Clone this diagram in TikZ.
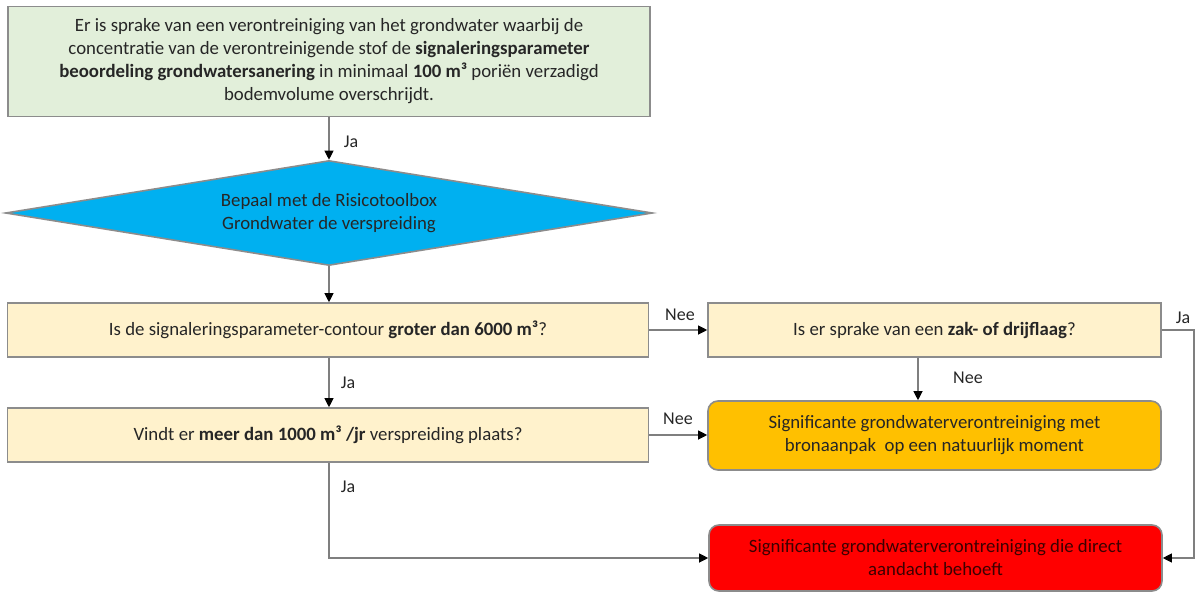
\documentclass[tikz,border=0pt]{standalone}
\usepackage{fontspec}
\setmainfont{Carlito}
\usetikzlibrary{shapes.geometric,arrows.meta}
\definecolor{boxgreen}{HTML}{E2EFDA}
\definecolor{boxyellow}{HTML}{FFF2CC}
\definecolor{boxorange}{HTML}{FFC000}
\definecolor{boxred}{HTML}{FF0000}
\definecolor{boxblue}{HTML}{00B0F0}
\definecolor{edgegray}{HTML}{8C8C8C}
\definecolor{linegray}{HTML}{7F7F7F}
\tikzset{
  base/.style={draw=edgegray, line width=1.6pt, align=center, inner sep=0pt,
    font=\fontsize{18.8}{23}\selectfont, text=black!85},
  greenbox/.style={base, rectangle, fill=boxgreen},
  yellowbox/.style={base, rectangle, fill=boxyellow},
  orangebox/.style={base, rectangle, rounded corners=10pt, fill=boxorange},
  redbox/.style={base, rectangle, rounded corners=10pt, fill=boxred,
    text={rgb,255:red,60;green,0;blue,0}},
  bluediamond/.style={base, diamond, shape aspect=6.16, fill=boxblue},
  conn/.style={draw=linegray, line width=1.1pt,
    -{Triangle[length=9pt,width=9pt,color=black]}},
  lbl/.style={font=\fontsize{18}{20}\selectfont, text=black!85, inner sep=0pt}
}
\begin{document}
\begin{tikzpicture}[x=1pt,y=-1pt]
\useasboundingbox (0,0) rectangle (1195,592);
\node[greenbox, minimum width=642pt, minimum height=110pt] (start) at (329,61.5)
  {Er is sprake van een verontreiniging van het grondwater waarbij de\\
   concentratie van de verontreinigende stof de \textbf{signaleringsparameter}\\
   \textbf{beoordeling grondwatersanering} in minimaal \textbf{100 m³} poriën verzadigd\\
   bodemvolume overschrijdt.};
\node[bluediamond, minimum width=647pt, minimum height=105pt] (tool) at (329,213)
  {Bepaal met de Risicotoolbox\\Grondwater de verspreiding};
\node[yellowbox, minimum width=641pt, minimum height=54pt] (q1) at (328,330)
  {Is de signaleringsparameter-contour \textbf{groter dan 6000 m³}?};
\node[yellowbox, minimum width=641pt, minimum height=54pt] (q2) at (328,435)
  {Vindt er \textbf{meer dan 1000 m³ /jr} verspreiding plaats?};
\node[yellowbox, minimum width=453pt, minimum height=54pt] (q3) at (934.5,330)
  {Is er sprake van een \textbf{zak- of drijflaag}?};
\node[orangebox, minimum width=453pt, minimum height=69pt] (res1) at (934.5,435.5)
  {Significante grondwaterverontreiniging met\\bronaanpak\ \ op een natuurlijk moment};
\node[redbox, minimum width=453pt, minimum height=66pt] (res2) at (935.5,558)
  {Significante grondwaterverontreiniging die direct\\aandacht behoeft};
\coordinate (bend1) at (329,558);
\coordinate (bend2a) at (1194,330);
\coordinate (bend2b) at (1194,558);

\draw[conn] (start.south -| tool.north) -- (tool.north);
\draw[conn] (tool.south) -- (q1.north -| tool.south);
\draw[conn] (q1.south -| tool.south) -- (q2.north -| tool.south);
\draw[conn] (q1.east) -- (q3.west);
\draw[conn] ([xshift=-16.5pt]q3.south) -- ([xshift=-16.5pt]res1.north);
\draw[conn] (q2.east) -- (q2.east -| res1.west);
\draw[conn] (q2.south -| tool.south) -- (bend1) -- (res2.west);
\draw[conn] (q3.east) -- (bend2a) -- (bend2b) -- (res2.east);

\node[lbl] (ja1) at (351,142) {Ja};
\node[lbl] (ja2) at (348,383) {Ja};
\node[lbl] (ja3) at (348,487) {Ja};
\node[lbl] (ja4) at (1183,318) {Ja};
\node[lbl] (nee1) at (680,315) {Nee};
\node[lbl] (nee2) at (678,419) {Nee};
\node[lbl] (nee3) at (968,378) {Nee};
\end{tikzpicture}
\end{document}
